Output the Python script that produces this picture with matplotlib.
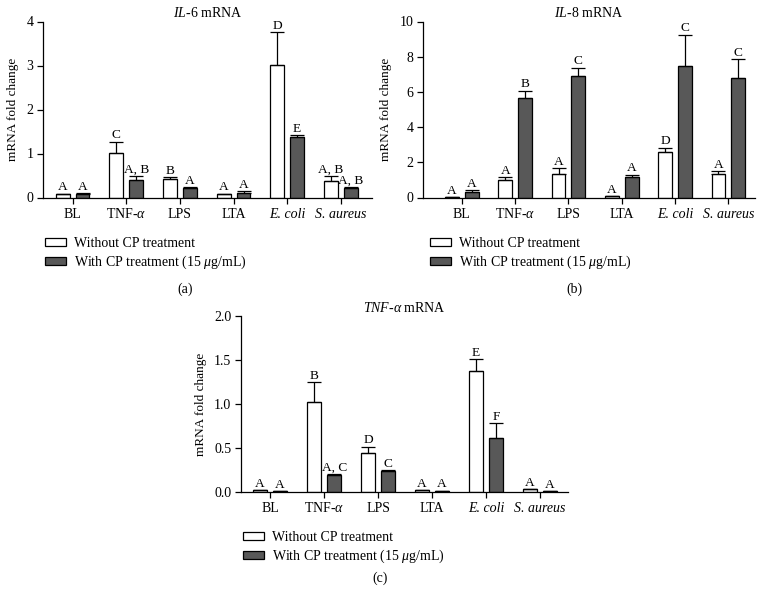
import matplotlib
matplotlib.use("Agg")
import numpy as np
import matplotlib.pyplot as plt
from matplotlib.patches import Patch

plt.rcParams['font.family'] = ['Liberation Serif', 'DejaVu Serif']
plt.rcParams['mathtext.fontset'] = 'custom'
plt.rcParams['mathtext.rm'] = 'Liberation Serif'
plt.rcParams['mathtext.it'] = 'Liberation Serif:italic'
plt.rcParams['font.size'] = 10

groups = ['BL', r'TNF-$\alpha$', 'LPS', 'LTA', 'E. coli', 'S. aureus']
series_names = ['Without CP treatment', r'With CP treatment (15 $\mu$g/mL)']

# IL-6
il6_without = [0.08, 1.02, 0.41, 0.09, 3.02, 0.37]
il6_without_err = [0.01, 0.25, 0.05, 0.0, 0.74, 0.12]
il6_with = [0.08, 0.39, 0.21, 0.11, 1.37, 0.21]
il6_with_err = [0.02, 0.10, 0.02, 0.03, 0.05, 0.02]
il6_without_lbl = ['A', 'C', 'B', 'A', 'D', 'A, B']
il6_with_lbl = ['A', 'A, B', 'A', 'A', 'E', 'A, B']

# IL-8
il8_without = [0.02, 1.0, 1.34, 0.06, 2.61, 1.34]
il8_without_err = [0.0, 0.15, 0.32, 0.0, 0.23, 0.17]
il8_with = [0.34, 5.67, 6.88, 1.15, 7.45, 6.8]
il8_with_err = [0.06, 0.40, 0.49, 0.14, 1.81, 1.06]
il8_without_lbl = ['A', 'A', 'A', 'A', 'D', 'A']
il8_with_lbl = ['A', 'B', 'C', 'A', 'C', 'C']

# TNF-alpha
tnf_without = [0.02, 1.02, 0.44, 0.02, 1.37, 0.035]
tnf_without_err = [0.0, 0.23, 0.075, 0.0, 0.14, 0.0]
tnf_with = [0.01, 0.19, 0.235, 0.015, 0.61, 0.01]
tnf_with_err = [0.0, 0.01, 0.015, 0.0, 0.17, 0.0]
tnf_without_lbl = ['A', 'B', 'D', 'A', 'E', 'A']
tnf_with_lbl = ['A', 'A, C', 'C', 'A', 'F', 'A']

dark = '#585858'
W, H = 765, 605


def draw_panel(rect, xlim, vals, errs, lbls, yticks, yticklabels, title):
    ax = fig.add_axes(rect)
    x = np.arange(len(groups))
    off = 0.186
    bw = 0.26
    colors = ['white', dark]
    for i, sgn in enumerate([-1, 1]):
        xs = x + sgn * off
        ax.bar(xs, vals[i], bw, color=colors[i], edgecolor='black', linewidth=0.9, zorder=2)
        ax.errorbar(xs, vals[i], yerr=[np.zeros(len(x)), errs[i]], fmt='none',
                    ecolor='black', elinewidth=0.9, capsize=5, capthick=0.9, zorder=3)
        for xi, v, e, t in zip(xs, vals[i], errs[i], lbls[i]):
            ax.annotate(t, (xi, v + e), xytext=(0, 0.3), textcoords='offset points',
                        ha='center', va='bottom', fontsize=9.6)
    ax.set_xlim(*xlim)
    ax.set_ylim(yticks[0], yticks[-1])
    ax.set_yticks(yticks)
    ax.set_yticklabels(yticklabels)
    ax.set_xticks(x)
    ax.set_xticklabels(groups)
    for s in ['top', 'right']:
        ax.spines[s].set_visible(False)
    for s in ['left', 'bottom']:
        ax.spines[s].set_linewidth(0.9)
    ax.tick_params(direction='out', length=4, width=0.9, labelsize=10, pad=3)
    ax.tick_params(axis='x', pad=10.5)
    for k, lab in enumerate(ax.get_xticklabels()):
        lab.set_verticalalignment('baseline')
        if k >= 4:
            lab.set_fontstyle('italic')
    ax.set_ylabel('mRNA fold change', fontsize=9.5, labelpad=5)
    ax.set_title(title, fontsize=10, pad=3)
    return ax


fig = plt.figure(figsize=(W / 100, H / 100), dpi=100)

panels = [
    ([43 / W, 1 - 197.5 / H, 329 / W, 176 / H], (-0.55, 5.58),
     (il6_without, il6_with), (il6_without_err, il6_with_err),
     (il6_without_lbl, il6_with_lbl), [0, 1, 2, 3, 4], ['0', '1', '2', '3', '4'],
     r'$\mathit{IL}$-$\mathit{6}$ mRNA', (45, 237), '(a)', (185, 289)),
    ([423 / W, 1 - 197.5 / H, 332 / W, 176 / H], (-0.73, 5.5),
     (il8_without, il8_with), (il8_without_err, il8_with_err),
     (il8_without_lbl, il8_with_lbl), [0, 2, 4, 6, 8, 10], ['0', '2', '4', '6', '8', '10'],
     r'$\mathit{IL}$-$\mathit{8}$ mRNA', (430, 237), '(b)', (574, 289)),
    ([241 / W, 1 - 492 / H, 327 / W, 176 / H], (-0.54, 5.52),
     (tnf_without, tnf_with), (tnf_without_err, tnf_with_err),
     (tnf_without_lbl, tnf_with_lbl), [0, 0.5, 1.0, 1.5, 2.0], ['0.0', '0.5', '1.0', '1.5', '2.0'],
     r'$\mathit{TNF}$-$\alpha$ mRNA', (243, 531), '(c)', (380, 578)),
]

for rect, xlim, vals, errs, lbls, yt, ytl, title, legpos, tag, tagpos in panels:
    draw_panel(rect, xlim, vals, errs, lbls, yt, ytl, title)
    handles = [Patch(facecolor='white', edgecolor='black', linewidth=0.9),
               Patch(facecolor=dark, edgecolor='black', linewidth=0.9)]
    fig.legend(handles, series_names, loc='upper left',
               bbox_to_anchor=(legpos[0] / W, 1 - legpos[1] / H),
               frameon=False, fontsize=10, borderpad=0, borderaxespad=0,
               handlelength=1.5, handleheight=0.55, handletextpad=0.6, labelspacing=0.25)
    fig.text(tagpos[0] / W, 1 - tagpos[1] / H, tag, ha='center', va='center', fontsize=10)

fig.savefig('out.png', dpi=100)
